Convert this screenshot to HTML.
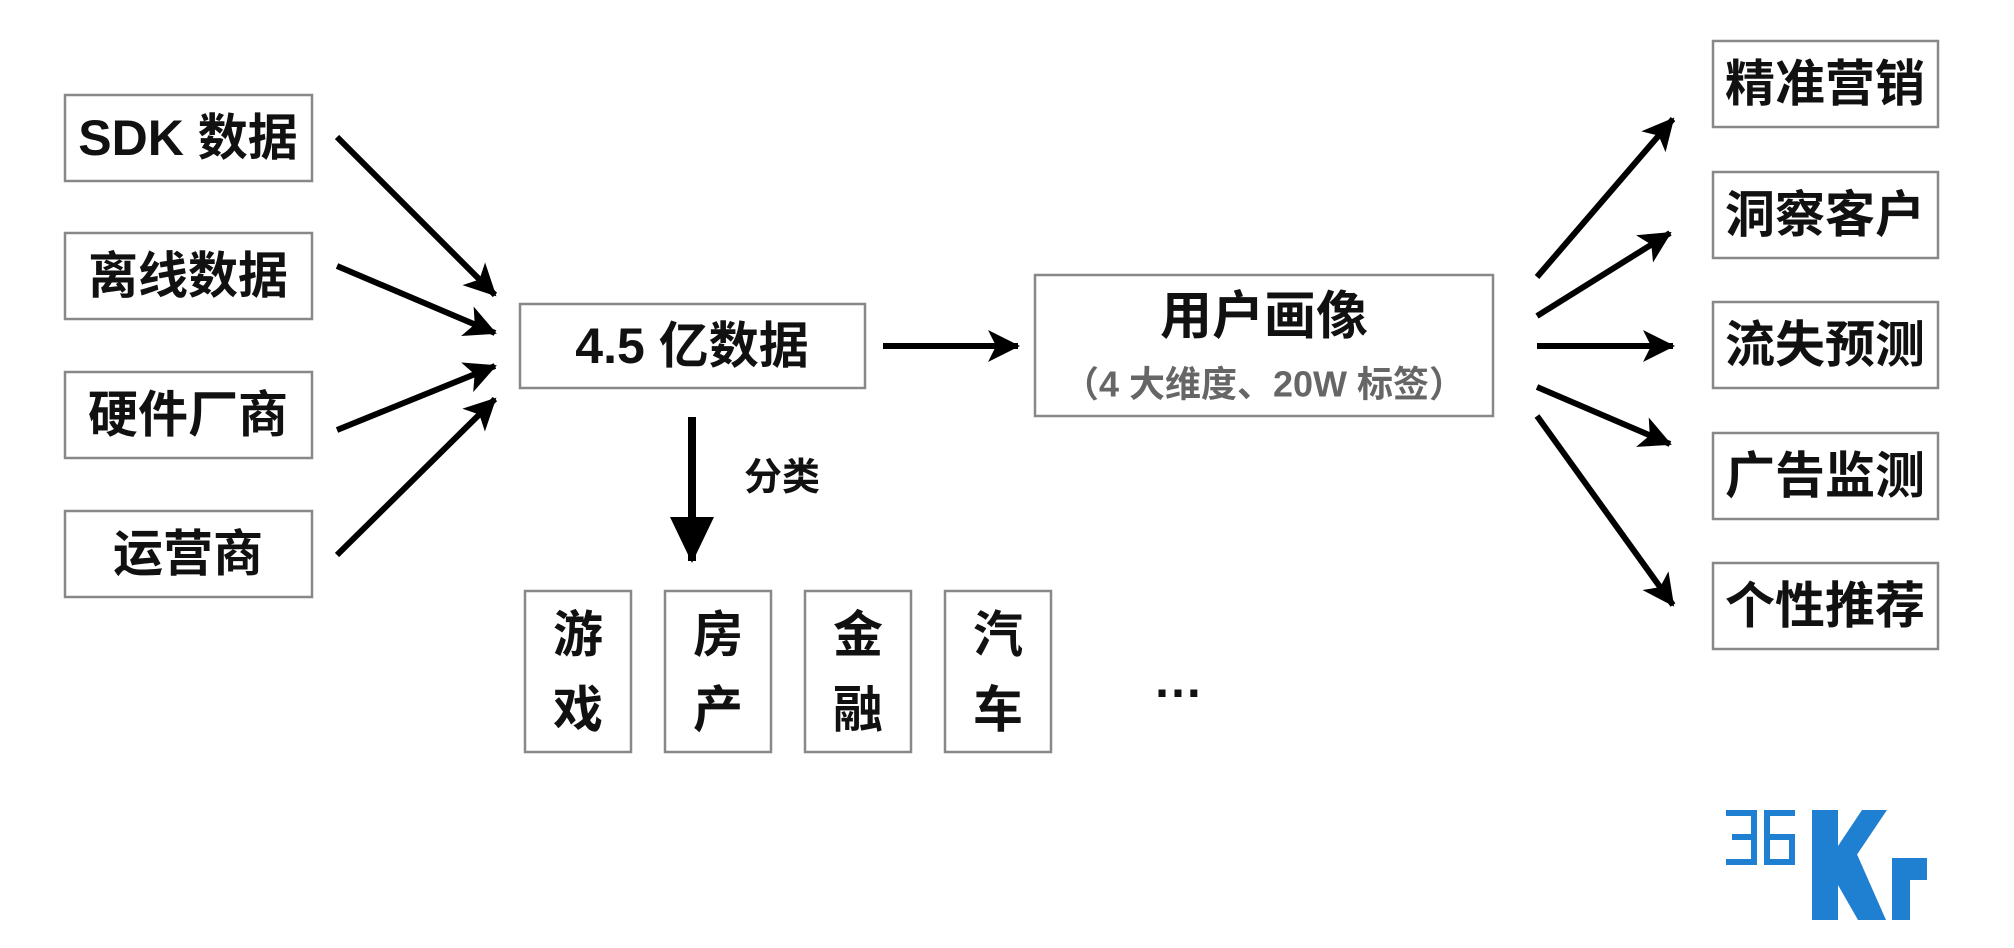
<!DOCTYPE html>
<html><head><meta charset="utf-8"><style>
html,body{margin:0;padding:0;background:#fff;}
svg{display:block;}
text{font-family:"Liberation Sans","Noto Sans CJK SC",sans-serif;font-weight:bold;fill:#111;}
</style></head><body>
<svg width="2014" height="948" viewBox="0 0 2014 948" xmlns="http://www.w3.org/2000/svg">
<defs>
<marker id="a" markerUnits="userSpaceOnUse" markerWidth="34" markerHeight="32" refX="30" refY="16" orient="auto">
<path d="M0,0 L32,16 L0,32 L8,16 Z" fill="#000"/>
</marker>
<marker id="b" markerUnits="userSpaceOnUse" markerWidth="46" markerHeight="46" refX="44" refY="22" orient="auto">
<path d="M0,0 L46,22 L0,44 Z" fill="#000"/>
</marker>
</defs>
<g fill="#fff" stroke="#888" stroke-width="2.5">
<rect x="65" y="95" width="247" height="86"/>
<rect x="65" y="233" width="247" height="86"/>
<rect x="65" y="372" width="247" height="86"/>
<rect x="65" y="511" width="247" height="86"/>
<rect x="520" y="304" width="345" height="84"/>
<rect x="1035" y="275" width="458" height="141"/>
<rect x="1713" y="41" width="225" height="86"/>
<rect x="1713" y="172" width="225" height="86"/>
<rect x="1713" y="302" width="225" height="86"/>
<rect x="1713" y="433" width="225" height="86"/>
<rect x="1713" y="563" width="225" height="86"/>
<rect x="525" y="591" width="106" height="161"/>
<rect x="665" y="591" width="106" height="161"/>
<rect x="805" y="591" width="106" height="161"/>
<rect x="945" y="591" width="106" height="161"/>
</g>
<g font-size="50" text-anchor="middle" dominant-baseline="central">
<text x="188" y="138">SDK 数据</text>
<text x="188" y="276">离线数据</text>
<text x="188" y="415">硬件厂商</text>
<text x="188" y="554">运营商</text>
<text x="692" y="346">4.5 亿数据</text>
<text x="1264" y="317" font-size="52">用户画像</text>
<text x="1264" y="384" font-size="36" style="fill:#666">（4 大维度、20W 标签）</text>
<text x="1825" y="84">精准营销</text>
<text x="1825" y="215">洞察客户</text>
<text x="1825" y="345">流失预测</text>
<text x="1825" y="476">广告监测</text>
<text x="1825" y="606">个性推荐</text>
<text x="578" y="635">游</text><text x="578" y="710">戏</text>
<text x="718" y="635">房</text><text x="718" y="710">产</text>
<text x="858" y="635">金</text><text x="858" y="710">融</text>
<text x="998" y="635">汽</text><text x="998" y="710">车</text>
<text x="1178" y="680">…</text>
<text x="782" y="478" font-size="38" font-weight="normal">分类</text>
</g>
<g stroke="#000" stroke-width="6" marker-end="url(#a)">
<line x1="337" y1="137" x2="495" y2="295"/>
<line x1="337" y1="266" x2="495" y2="333"/>
<line x1="337" y1="430" x2="495" y2="366"/>
<line x1="337" y1="555" x2="495" y2="399"/>
<line x1="883" y1="346" x2="1018" y2="346"/>
<line x1="1537" y1="277" x2="1673" y2="119"/>
<line x1="1537" y1="316" x2="1670" y2="233"/>
<line x1="1537" y1="346" x2="1673" y2="346"/>
<line x1="1537" y1="387" x2="1670" y2="444"/>
<line x1="1537" y1="416" x2="1673" y2="605"/>
</g>
<line x1="692" y1="417" x2="692" y2="561" stroke="#000" stroke-width="8" marker-end="url(#b)"/>
<g fill="none" stroke="#1f7fd0" stroke-width="6">
<path d="M1726,813 H1754 V862 H1726 M1732,837 H1754"/>
<path d="M1795,813 H1767 V862 H1792 V837 H1767"/>
</g>
<g fill="#1f7fd0">
<rect x="1812" y="810" width="26" height="110"/>
<polygon points="1838,846 1862,810 1887,810 1852,862 1838,862"/>
<polygon points="1838,852 1856,852 1886,920 1858,920 1838,885"/>
<rect x="1892" y="858" width="18" height="62"/>
<rect x="1892" y="858" width="35" height="22"/>
</g>
</svg>
</body></html>
